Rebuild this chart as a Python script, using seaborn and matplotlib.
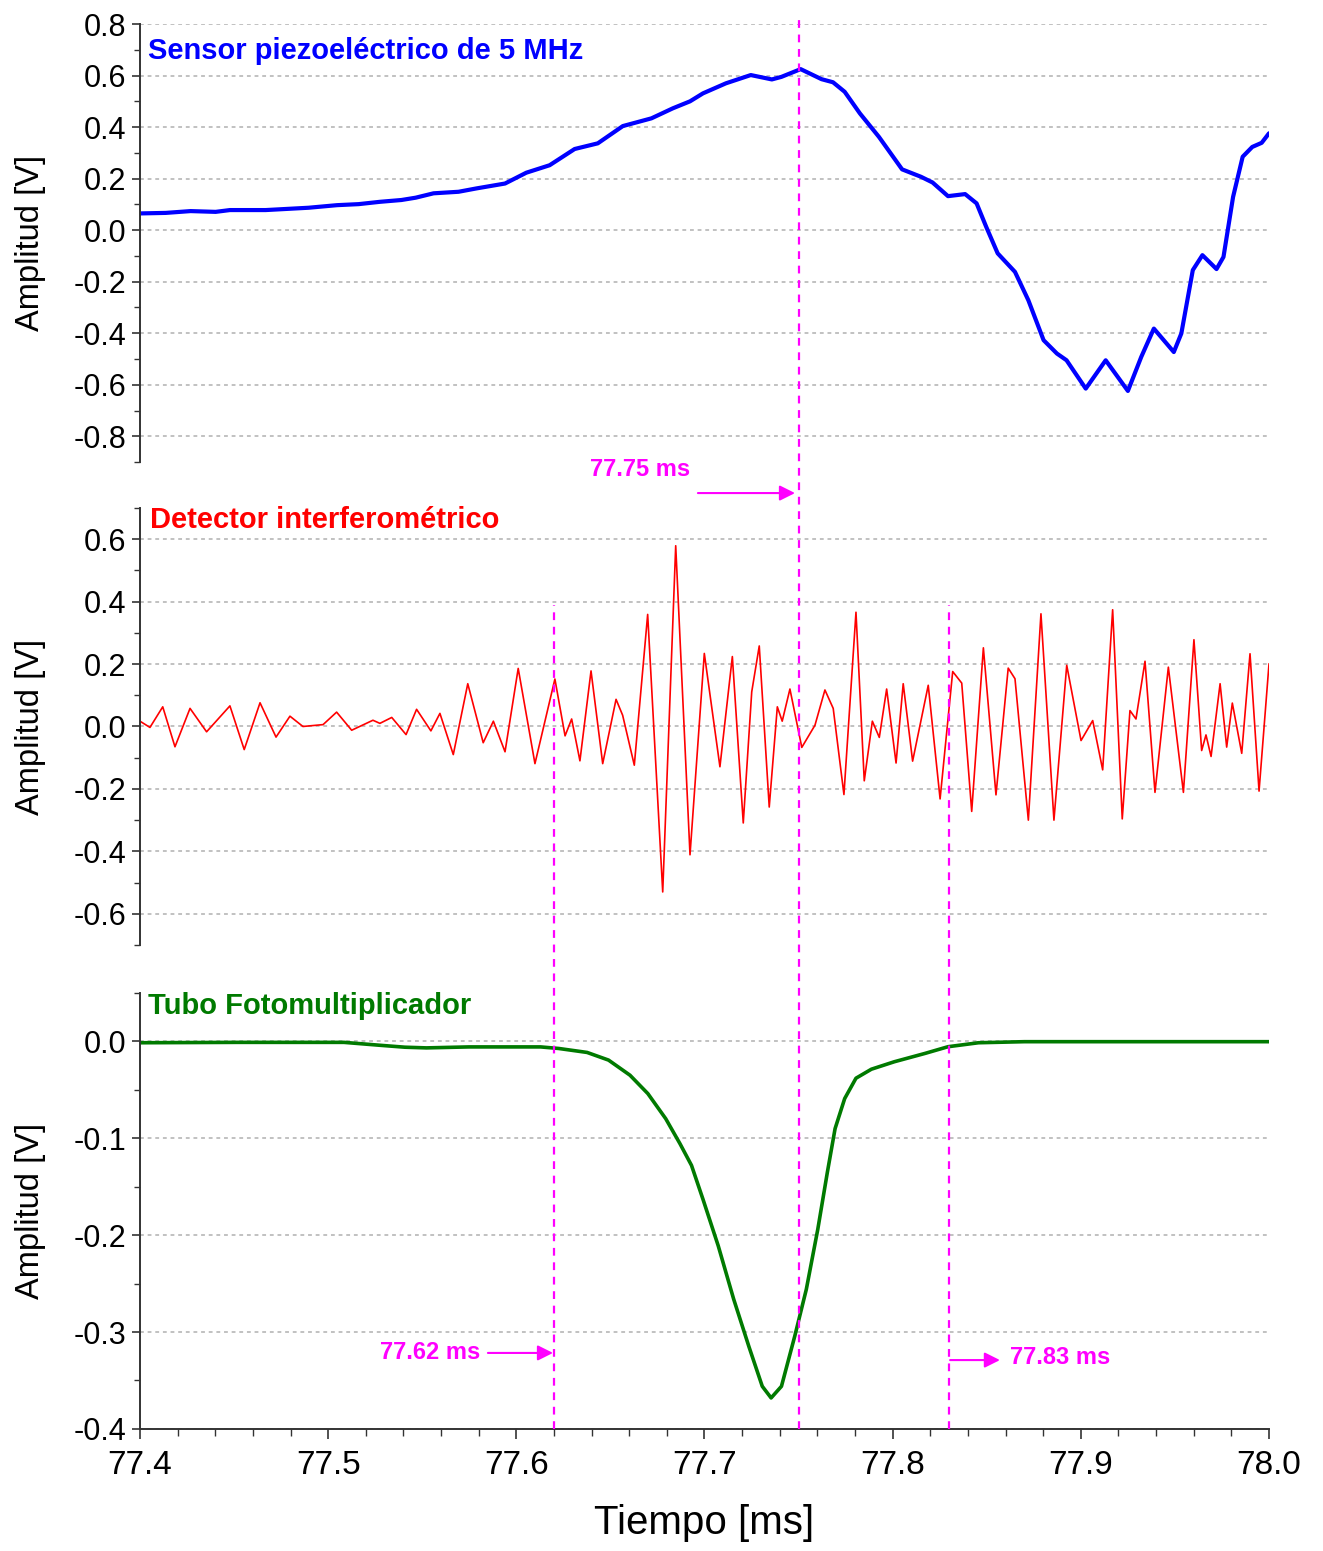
import matplotlib
matplotlib.use("Agg")
import matplotlib.pyplot as plt
import matplotlib.transforms as mtransforms
from matplotlib.lines import Line2D
from matplotlib.ticker import MultipleLocator, FormatStrFormatter
import seaborn as sns

sns.set_style("white")
plt.rcParams['font.family'] = ['Liberation Sans', 'DejaVu Sans']
plt.rcParams['text.color'] = 'black'
plt.rcParams['axes.labelcolor'] = 'black'

# sensor piezoelectrico (azul)
t_piezo = [77.4004, 77.4137, 77.4269, 77.4402, 77.4478, 77.4668, 77.4896, 77.5047,
           77.5162, 77.5275, 77.5389, 77.5465, 77.5560, 77.5693, 77.5788, 77.5940,
           77.6053, 77.6177, 77.6310, 77.6433, 77.6566, 77.6718, 77.6832, 77.6923,
           77.6992, 77.7114, 77.7246, 77.7358, 77.7409, 77.7511, 77.7622, 77.7683,
           77.7745, 77.7826, 77.7927, 77.8050, 77.8151, 77.8212, 77.8294, 77.8385,
           77.8446, 77.8497, 77.8558, 77.8650, 77.8721, 77.8802, 77.8873, 77.8924,
           77.9026, 77.9132, 77.9250, 77.9321, 77.9388, 77.9494, 77.9534, 77.9595,
           77.9646, 77.9721, 77.9758, 77.9809, 77.9860, 77.9911, 77.9961, 78.0000]
v_piezo = [0.065, 0.067, 0.074, 0.071, 0.078, 0.078, 0.087, 0.097,
           0.101, 0.110, 0.117, 0.126, 0.143, 0.149, 0.162, 0.181,
           0.223, 0.252, 0.315, 0.337, 0.404, 0.434, 0.473, 0.500,
           0.531, 0.570, 0.602, 0.585, 0.595, 0.625, 0.586, 0.574,
           0.537, 0.453, 0.362, 0.236, 0.207, 0.185, 0.132, 0.140,
           0.104, 0.013, -0.090, -0.162, -0.272, -0.427, -0.479, -0.505,
           -0.615, -0.505, -0.624, -0.492, -0.382, -0.473, -0.401, -0.155,
           -0.097, -0.151, -0.104, 0.129, 0.285, 0.323, 0.339, 0.376]

# detector interferometrico (rojo)
t_interf = [77.4000, 77.4053, 77.4121, 77.4186, 77.4266, 77.4354, 77.4478, 77.4554, 77.4638, 77.4723,
            77.4797, 77.4866, 77.4973, 77.5045, 77.5125, 77.5238, 77.5275, 77.5338, 77.5414, 77.5470,
            77.5546, 77.5594, 77.5665, 77.5742, 77.5824, 77.5878, 77.5940, 77.6010, 77.6099, 77.6205,
            77.6259, 77.6294, 77.6338, 77.6397, 77.6459, 77.6530, 77.6565, 77.6627, 77.6698, 77.6778,
            77.6847, 77.6923, 77.6999, 77.7082, 77.7148, 77.7206, 77.7251, 77.7291, 77.7344, 77.7387,
            77.7413, 77.7454, 77.7517, 77.7587, 77.7640, 77.7684, 77.7741, 77.7805, 77.7849, 77.7892,
            77.7929, 77.7968, 77.8018, 77.8056, 77.8106, 77.8189, 77.8252, 77.8319, 77.8367, 77.8420,
            77.8482, 77.8549, 77.8614, 77.8650, 77.8721, 77.8788, 77.8857, 77.8925, 77.9001, 77.9063,
            77.9116, 77.9169, 77.9220, 77.9261, 77.9293, 77.9341, 77.9394, 77.9465, 77.9545, 77.9601,
            77.9642, 77.9665, 77.9692, 77.9740, 77.9775, 77.9805, 77.9855, 77.9899, 77.9947, 78.0000]
v_interf = [0.017, -0.003, 0.063, -0.065, 0.058, -0.017, 0.066, -0.074, 0.076, -0.034,
            0.033, 0.000, 0.006, 0.046, -0.012, 0.020, 0.010, 0.029, -0.026, 0.055,
            -0.014, 0.042, -0.090, 0.137, -0.052, 0.017, -0.081, 0.186, -0.119, 0.152,
            -0.030, 0.024, -0.110, 0.178, -0.119, 0.087, 0.036, -0.124, 0.359, -0.530,
            0.579, -0.411, 0.234, -0.129, 0.224, -0.309, 0.111, 0.258, -0.258, 0.063,
            0.017, 0.120, -0.067, 0.004, 0.117, 0.058, -0.218, 0.366, -0.174, 0.017,
            -0.035, 0.120, -0.117, 0.137, -0.111, 0.132, -0.232, 0.176, 0.139, -0.272,
            0.252, -0.219, 0.187, 0.153, -0.300, 0.361, -0.300, 0.196, -0.045, 0.019,
            -0.139, 0.374, -0.296, 0.051, 0.024, 0.209, -0.211, 0.190, -0.211, 0.278,
            -0.077, -0.027, -0.096, 0.137, -0.066, 0.075, -0.086, 0.233, -0.207, 0.201]

# tubo fotomultiplicador (verde)
t_pmt = [77.4004, 77.4515, 77.5084, 77.5275, 77.5408, 77.5522, 77.5748, 77.6129,
         77.6225, 77.6376, 77.6490, 77.6604, 77.6699, 77.6794, 77.6870, 77.6931,
         77.6992, 77.7073, 77.7155, 77.7236, 77.7307, 77.7354, 77.7409, 77.7480,
         77.7541, 77.7602, 77.7653, 77.7694, 77.7745, 77.7805, 77.7887, 77.8009,
         77.8172, 77.8294, 77.8456, 77.8700, 77.9310, 78.0000]
v_pmt = [-0.0014, -0.0010, -0.0010, -0.0040, -0.0060, -0.0067, -0.0057, -0.0057,
         -0.0073, -0.0114, -0.0193, -0.0349, -0.0539, -0.0798, -0.1057, -0.128,
         -0.163, -0.211, -0.266, -0.315, -0.356, -0.368, -0.356, -0.304,
         -0.256, -0.194, -0.135, -0.090, -0.059, -0.038, -0.0287, -0.021,
         -0.0124, -0.0055, -0.0014, -0.0003, -0.0003, -0.0003]

marker_times = [77.62, 77.75, 77.83]
marker_labels = ['77.62 ms', '77.75 ms', '77.83 ms']

MAG = '#ff00ff'

fig = plt.figure(figsize=(13.23, 15.51), dpi=100)
ax1 = fig.add_axes([0.1058, 0.7021, 0.8534, 0.2824])
ax2 = fig.add_axes([0.1058, 0.3907, 0.8534, 0.2818], sharex=ax1)
ax3 = fig.add_axes([0.1058, 0.0787, 0.8534, 0.2811], sharex=ax1)

sns.lineplot(x=t_piezo, y=v_piezo, ax=ax1, color='#0000ff', lw=3, estimator=None, sort=False)
sns.lineplot(x=t_interf, y=v_interf, ax=ax2, color='#ff0000', lw=1.2, estimator=None, sort=False)
sns.lineplot(x=t_pmt, y=v_pmt, ax=ax3, color='#007a00', lw=2.6, estimator=None, sort=False)

ax1.set_ylim(-0.9, 0.8)
ax2.set_ylim(-0.7, 0.7)
ax3.set_ylim(-0.4, 0.05)
ax3.set_xlim(77.4, 78.0)

ax1.yaxis.set_major_locator(MultipleLocator(0.2))
ax1.yaxis.set_minor_locator(MultipleLocator(0.1))
ax2.yaxis.set_major_locator(MultipleLocator(0.2))
ax2.yaxis.set_minor_locator(MultipleLocator(0.1))
ax3.yaxis.set_major_locator(MultipleLocator(0.1))
ax3.yaxis.set_minor_locator(MultipleLocator(0.05))
ax3.xaxis.set_major_locator(MultipleLocator(0.1))
ax3.xaxis.set_minor_locator(MultipleLocator(0.02))

for ax in (ax1, ax2, ax3):
    ax.set_axisbelow(True)
    ax.yaxis.grid(True, which='major', color='#b0b0b0', lw=1.1, ls=(0, (2.5, 2.5)))
    ax.xaxis.grid(False)
    for s in ('top', 'right'):
        ax.spines[s].set_visible(False)
    ax.spines['left'].set_color('#333333')
    ax.spines['left'].set_linewidth(1.4)
    ax.tick_params(axis='y', which='major', direction='out', length=6, width=1.2,
                   color='#333333', labelcolor='black', labelsize=22, pad=4, left=True)
    ax.tick_params(axis='y', which='minor', direction='out', length=4, width=1.0,
                   color='#333333', left=True)
    ax.yaxis.set_major_formatter(FormatStrFormatter('%.1f'))
    ax.set_ylabel('Amplitud [V]', fontsize=23.5)
    ax.yaxis.set_label_coords(-0.083, 0.5)

for ax in (ax1, ax2):
    ax.spines['bottom'].set_visible(False)
    ax.tick_params(axis='x', which='both', bottom=False, labelbottom=False)
    ax.set_xlabel('')

ax3.spines['bottom'].set_color('#333333')
ax3.spines['bottom'].set_linewidth(1.4)
ax3.tick_params(axis='x', which='major', direction='out', length=7, width=1.2,
                color='#333333', labelcolor='black', labelsize=24, pad=8, bottom=True)
ax3.tick_params(axis='x', which='minor', direction='out', length=5, width=1.0,
                color='#333333', bottom=True)
ax3.xaxis.set_major_formatter(FormatStrFormatter('%.1f'))
ax3.set_xlabel('Tiempo [ms]', fontsize=29)
ax3.xaxis.set_label_coords(0.5, -0.172)

ax1.text(0.007, 0.938, 'Sensor piezoeléctrico de 5 MHz', transform=ax1.transAxes,
         color='#0000ff', fontsize=21, fontweight='bold', va='center', ha='left')
ax2.text(0.009, 0.9725, 'Detector interferométrico', transform=ax2.transAxes,
         color='#ff0000', fontsize=21, fontweight='bold', va='center', ha='left')
ax3.text(0.007, 0.970, 'Tubo Fotomultiplicador', transform=ax3.transAxes,
         color='#007a00', fontsize=21, fontweight='bold', va='center', ha='left')

# lineas verticales de referencia
trans = mtransforms.blended_transform_factory(ax3.transData, fig.transFigure)
tops = [0.6099, 0.9903, 0.6099]
for xm, top in zip(marker_times, tops):
    fig.add_artist(Line2D([xm, xm], [0.0787, top], transform=trans, color=MAG,
                          lw=1.6, ls=(0, (3.5, 3)), zorder=5))

arrow = dict(arrowstyle='-|>', color=MAG, lw=1.5, mutation_scale=23, shrinkA=0, shrinkB=0)
coords = ('data', 'figure fraction')

ax3.annotate('', xy=(77.7481, 0.6821), xytext=(77.6965, 0.6821),
             xycoords=coords, textcoords=coords, arrowprops=arrow, annotation_clip=False)
ax3.annotate(marker_labels[1], xy=(77.6657, 0.6970), xycoords=coords, color=MAG,
             fontsize=17, fontweight='bold', ha='center', va='center', annotation_clip=False)

ax3.annotate('', xy=(77.6195, 0.1277), xytext=(77.5849, 0.1277),
             xycoords=coords, textcoords=coords, arrowprops=arrow, annotation_clip=False)
ax3.annotate(marker_labels[0], xy=(77.5541, 0.1277), xycoords=coords, color=MAG,
             fontsize=17, fontweight='bold', ha='center', va='center', annotation_clip=False)

ax3.annotate('', xy=(77.8570, 0.1231), xytext=(77.8305, 0.1231),
             xycoords=coords, textcoords=coords, arrowprops=arrow, annotation_clip=False)
ax3.annotate(marker_labels[2], xy=(77.8889, 0.1250), xycoords=coords, color=MAG,
             fontsize=17, fontweight='bold', ha='center', va='center', annotation_clip=False)

fig.savefig('out.png', dpi=100)
